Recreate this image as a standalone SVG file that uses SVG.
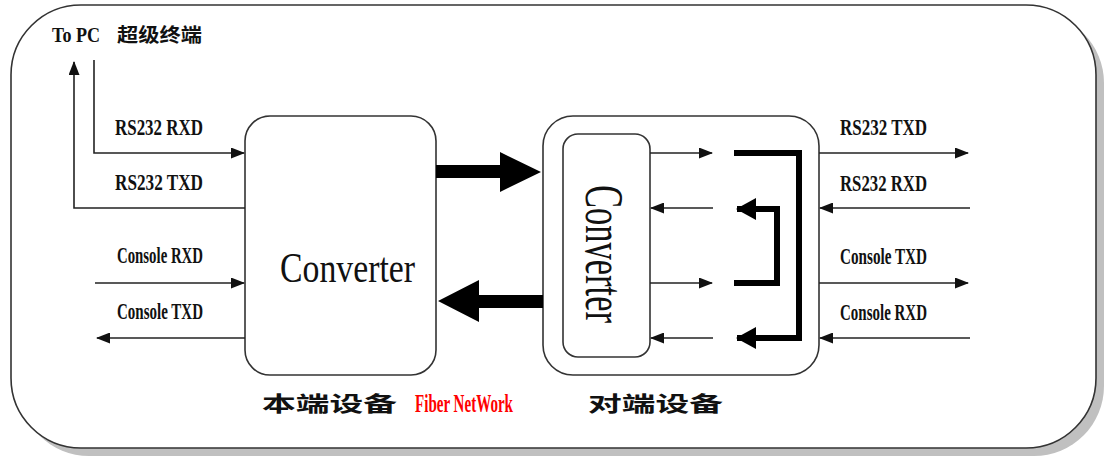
<svg xmlns="http://www.w3.org/2000/svg" width="1105" height="459" viewBox="0 0 1105 459">
  <style>
    .box { fill: #fff; stroke: #333; stroke-width: 1.6; }
    .wire { fill: none; stroke: #222; stroke-width: 1.6; }
    .loop { fill: none; stroke: #000; stroke-width: 6; stroke-linejoin: miter; }
    .fat { fill: #000; }
    .sig { font-family: "Liberation Serif", serif; font-weight: bold; font-size: 24px; fill: #111; }
    .conv { font-family: "Liberation Serif", serif; fill: #111; }
    .cjk { font-family: "Liberation Serif", "Noto Sans CJK SC", sans-serif; font-weight: bold; fill: #111; }
  </style>
  <defs>
    <marker id="tip" markerUnits="userSpaceOnUse" markerWidth="14" markerHeight="11" viewBox="0 0 14 11" refX="13" refY="5.5" orient="auto">
      <path d="M0,0 L14,5.5 L0,11 z" fill="#111"/>
    </marker>
    <marker id="bigTip" markerUnits="userSpaceOnUse" markerWidth="20" markerHeight="22" viewBox="0 0 20 22" refX="19" refY="11" orient="auto">
      <path d="M0,0 L20,11 L0,22 z" fill="#000"/>
    </marker>
  </defs>

  <!-- frame with drop shadow -->
  <g id="frame">
    <rect x="19" y="13" width="1085" height="443" rx="70" fill="#c0c0c0"/>
    <rect x="11" y="5" width="1085" height="443" rx="70" class="box" stroke="#222"/>
  </g>

  <!-- local unit -->
  <g id="local-unit">
    <rect x="245" y="116" width="191" height="259" rx="25" class="box"/>
    <text x="280" y="282" class="conv" font-size="42" textLength="135" lengthAdjust="spacingAndGlyphs">Converter</text>
  </g>

  <!-- remote unit -->
  <g id="remote-unit">
    <rect x="543" y="116" width="276" height="259" rx="30" class="box"/>
    <g id="remote-converter">
      <rect x="563" y="134" width="87" height="223" rx="15" class="box"/>
      <text transform="translate(586,185) rotate(90)" class="conv" font-size="54" textLength="138" lengthAdjust="spacingAndGlyphs">Converter</text>
    </g>
  </g>

  <!-- connectors -->
  <g id="connectors">
    <!-- fiber links -->
    <polygon class="fat" points="436,165 500,165 500,152 541,172 500,192 500,178 436,178"/>
    <polygon class="fat" points="543,295 479,295 479,280 438,301 479,322 479,308 543,308"/>

    <!-- PC side -->
    <path class="wire" d="M94,60 V153 H244" marker-end="url(#tip)"/>
    <path class="wire" d="M245,208 H74 V62" marker-end="url(#tip)"/>
    <path class="wire" d="M95,283 H244" marker-end="url(#tip)"/>
    <path class="wire" d="M245,338 H97" marker-end="url(#tip)"/>

    <!-- remote converter ports -->
    <path class="wire" d="M650,153 H712" marker-end="url(#tip)"/>
    <path class="wire" d="M713,208 H651" marker-end="url(#tip)"/>
    <path class="wire" d="M650,283 H712" marker-end="url(#tip)"/>
    <path class="wire" d="M713,338 H651" marker-end="url(#tip)"/>

    <!-- loopbacks -->
    <path class="loop" d="M734,153 H799 V338 H737" marker-end="url(#bigTip)"/>
    <path class="loop" d="M734,283 H777 V209 H737" marker-end="url(#bigTip)"/>

    <!-- remote side outputs -->
    <path class="wire" d="M819,153 H968" marker-end="url(#tip)"/>
    <path class="wire" d="M970,208 H820" marker-end="url(#tip)"/>
    <path class="wire" d="M819,283 H968" marker-end="url(#tip)"/>
    <path class="wire" d="M970,338 H820" marker-end="url(#tip)"/>
  </g>

  <!-- labels -->
  <g id="labels">
    <text x="52" y="42" class="cjk" font-size="20" textLength="48" lengthAdjust="spacingAndGlyphs">To PC</text>
    <text x="117" y="42" class="cjk" font-size="19" textLength="85" lengthAdjust="spacingAndGlyphs">超级终端</text>

    <text x="115" y="135" class="sig" textLength="88" lengthAdjust="spacingAndGlyphs">RS232 RXD</text>
    <text x="115" y="190" class="sig" textLength="88" lengthAdjust="spacingAndGlyphs">RS232 TXD</text>
    <text x="117" y="263" class="sig" textLength="86" lengthAdjust="spacingAndGlyphs">Console RXD</text>
    <text x="117" y="319" class="sig" textLength="86" lengthAdjust="spacingAndGlyphs">Console TXD</text>

    <text x="840" y="135" class="sig" textLength="87" lengthAdjust="spacingAndGlyphs">RS232 TXD</text>
    <text x="840" y="191" class="sig" textLength="87" lengthAdjust="spacingAndGlyphs">RS232 RXD</text>
    <text x="840" y="264" class="sig" textLength="87" lengthAdjust="spacingAndGlyphs">Console TXD</text>
    <text x="840" y="320" class="sig" textLength="87" lengthAdjust="spacingAndGlyphs">Console RXD</text>

    <text x="262" y="411" class="cjk" font-size="21" textLength="135" lengthAdjust="spacingAndGlyphs">本端设备</text>
    <text x="415" y="412" font-family="Liberation Serif, serif" font-weight="bold" font-size="26" fill="#ff0000" textLength="98" lengthAdjust="spacingAndGlyphs">Fiber NetWork</text>
    <text x="588" y="411" class="cjk" font-size="21" textLength="135" lengthAdjust="spacingAndGlyphs">对端设备</text>
  </g>
</svg>
